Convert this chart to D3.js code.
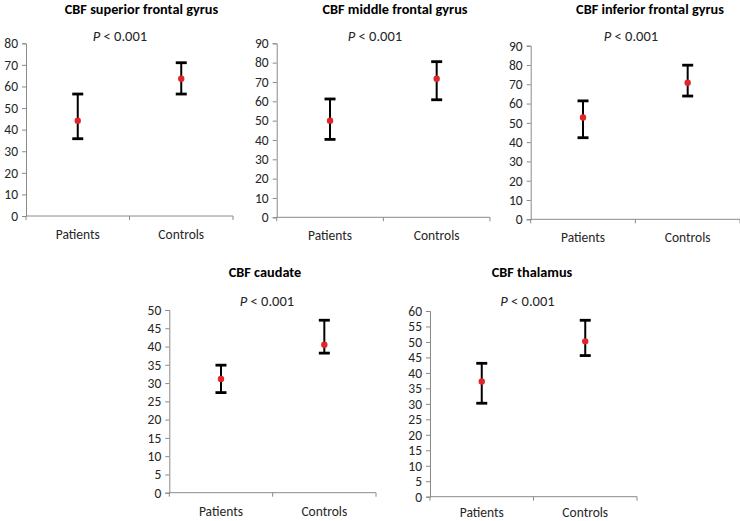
<!DOCTYPE html>
<html><head><meta charset="utf-8">
<script src="https://cdn.jsdelivr.net/npm/d3@7"></script>
<style>
body{margin:0;background:#fff;}
svg{display:block;}
text{font-family:Carlito, Lato, "Open Sans", sans-serif;}
</style></head>
<body>
<svg id="chart" width="740" height="521"></svg>
<script>
// ---- data ----
const titles = ["CBF superior frontal gyrus","CBF middle frontal gyrus","CBF inferior frontal gyrus","CBF caudate","CBF thalamus"];
const categories = ["Patients","Controls"];
const means = [[44.1,63.6],[50.0,71.7],[52.8,70.8],[31.1,40.5],[37.2,50.2]];
const upper = [[56.5,71.0],[61.2,80.5],[61.4,79.9],[34.9,47.2],[43.1,57.0]];
const lower = [[35.8,56.5],[40.3,60.8],[42.3,63.9],[27.4,38.2],[30.2,45.6]];
const yMax = [80,90,90,50,60];
const yStep = [10,10,10,5,5];
const pValues = ["0.001","0.001","0.001","0.001","0.001"];

// ---- layout ----
const boxes = [
  {x0:26, x1:233, y0:43.3, y1:216, tx:141.5, ty:14, px:120, py:41},
  {x0:276.7, x1:490, y0:43.3, y1:217.3, tx:395, ty:14, px:375, py:41},
  {x0:530.7, x1:740, y0:45.7, y1:219.3, tx:650, ty:14, px:631, py:41},
  {x0:169.3, x1:376, y0:310, y1:492.7, tx:265, ty:277, px:267, py:306},
  {x0:430, x1:637, y0:311, y1:496.7, tx:532, ty:277, px:527.5, py:306}
];
const svg = d3.select("#chart");
const axisColor = "#8a8a8a";

titles.forEach((t,i)=>{
  const b = boxes[i];
  const g = svg.append("g");
  const y = d3.scaleLinear().domain([0,yMax[i]]).range([b.y1,b.y0]);
  const x = d3.scaleBand().domain(categories).range([b.x0,b.x1]).padding(0);
  const ticks = d3.range(0,yMax[i]+0.001,yStep[i]);

  // y axis
  const ya = g.append("g").attr("transform",`translate(${b.x0},0)`)
    .call(d3.axisLeft(y).tickValues(ticks).tickSize(4).tickPadding(4).tickFormat(d3.format("d")));
  ya.select(".domain").attr("stroke",axisColor).attr("stroke-width",1);
  ya.selectAll(".tick line").attr("stroke",axisColor);
  ya.selectAll(".tick text").attr("font-size",13.5).attr("fill","#262626").attr("font-family","Carlito, Lato, sans-serif");

  // x axis
  const xa = g.append("g").attr("transform",`translate(0,${b.y1})`);
  xa.append("line").attr("x1",b.x0).attr("x2",b.x1).attr("stroke",axisColor);
  const xt = [b.x0, (b.x0+b.x1)/2, b.x1];
  xa.selectAll("line.t").data(xt).join("line").attr("class","t")
    .attr("x1",d=>d).attr("x2",d=>d).attr("y1",0).attr("y2",4).attr("stroke",axisColor);
  const ly = Math.min(23, 521 - 4 - b.y1);
  xa.selectAll("text").data(categories).join("text")
    .attr("x",d=>x(d)+x.bandwidth()/2).attr("y",ly)
    .attr("text-anchor","middle").attr("font-size",13.5).attr("fill","#262626").text(d=>d);

  // error bars
  const cx = c => x(c)+x.bandwidth()/2;
  categories.forEach((c,j)=>{
    g.append("line").attr("x1",cx(c)).attr("x2",cx(c))
      .attr("y1",y(lower[i][j])).attr("y2",y(upper[i][j]))
      .attr("stroke","#000").attr("stroke-width",2);
    [upper[i][j],lower[i][j]].forEach(v=>{
      g.append("line").attr("x1",cx(c)-5.5).attr("x2",cx(c)+5.5)
        .attr("y1",y(v)).attr("y2",y(v)).attr("stroke","#000").attr("stroke-width",2.8);
    });
    g.append("circle").attr("cx",cx(c)).attr("cy",y(means[i][j])).attr("r",3.2).attr("fill","#e2252b");
  });

  // title
  g.append("text").attr("x",b.tx).attr("y",b.ty).attr("text-anchor","middle")
    .attr("font-size",14.3).attr("font-weight","bold").attr("fill","#000").text(t);
  // p value
  const pt = g.append("text").attr("x",b.px).attr("y",b.py).attr("text-anchor","middle")
    .attr("font-size",14.5).attr("fill","#262626");
  pt.append("tspan").attr("font-style","italic").text("P");
  pt.append("tspan").text(" < " + pValues[i]);
});
</script>
</body></html>
